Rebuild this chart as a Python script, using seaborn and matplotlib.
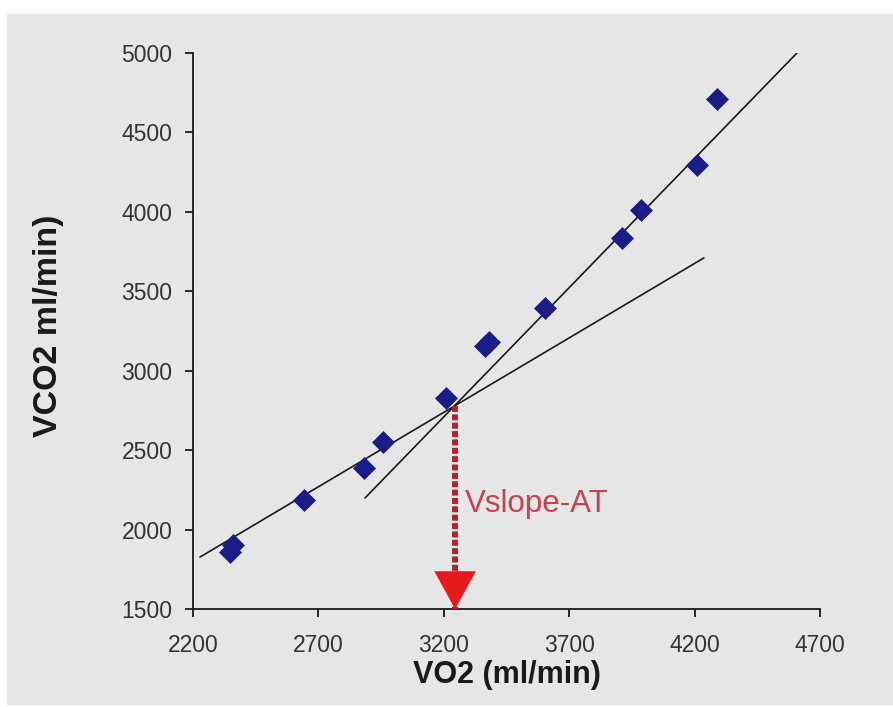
import matplotlib
matplotlib.use("Agg")
import matplotlib.pyplot as plt
from matplotlib.patches import Rectangle
import seaborn as sns
import pandas as pd

# ---- data ----
VO2 = [2347, 2359, 2643, 2882, 2958, 3209, 3364, 3380, 3603, 3910, 3986, 4209, 4289]
VCO2 = [1859, 1903, 2186, 2388, 2552, 2829, 3155, 3180, 3395, 3836, 4012, 4296, 4711]

LINE1_VO2 = [2228, 4237]   # lower-slope regression line
LINE1_VCO2 = [1827, 3710]
LINE2_VO2 = [2886, 4608]   # upper-slope regression line
LINE2_VCO2 = [2199, 5000]

AT_VO2 = 3245     # anaerobic threshold (intersection)
AT_VCO2 = 2780
AT_LABEL = "Vslope-AT"
AT_LABEL_POS = (3285, 2108)

X_TICKS = [2200, 2700, 3200, 3700, 4200, 4700]
Y_TICKS = [1500, 2000, 2500, 3000, 3500, 4000, 4500, 5000]
X_LABEL = "VO2 (ml/min)"
Y_LABEL = "VCO2 ml/min)"

df = pd.DataFrame({"VO2": VO2, "VCO2": VCO2})

sns.set_theme(style="ticks")
plt.rcParams["font.family"] = ["Liberation Sans", "DejaVu Sans"]

GRAY = "#e6e6e6"
fig = plt.figure(figsize=(8.93, 7.07), dpi=100)
fig.patch.set_facecolor("white")
fig.patches.append(Rectangle((7 / 893, 2 / 707), 1.0, (705 - 14) / 707,
                             transform=fig.transFigure, facecolor=GRAY,
                             edgecolor="none", zorder=-10))

ax = fig.add_axes([193 / 893, 1 - 609 / 707, (820 - 193) / 893, (609 - 53) / 707])
ax.patch.set_alpha(0)

sns.lineplot(x=LINE1_VO2, y=LINE1_VCO2, ax=ax, color="#1a1a1a", lw=1.2, zorder=2)
sns.lineplot(x=LINE2_VO2, y=LINE2_VCO2, ax=ax, color="#1a1a1a", lw=1.2, zorder=2)

sns.scatterplot(data=df, x="VO2", y="VCO2", ax=ax, marker="D", s=125,
                color="#1c1c88", edgecolor="#1c1c88", linewidth=0.5, zorder=3)

# dotted drop line and arrow head
ax.plot([AT_VO2, AT_VO2], [AT_VCO2, Y_TICKS[0]], color="#b3212e", lw=4.3,
        linestyle=(0, (1.0, 0.4)), solid_capstyle="butt", dash_capstyle="butt", zorder=4)
ax.annotate("", xy=(AT_VO2, Y_TICKS[0]), xytext=(0, 28), textcoords="offset points",
            arrowprops=dict(arrowstyle="-|>,head_length=1.36,head_width=0.75",
                            mutation_scale=20, color="#e8191c", lw=0,
                            shrinkA=0, shrinkB=0), zorder=5)
ax.text(AT_LABEL_POS[0], AT_LABEL_POS[1], AT_LABEL, color="#c8414f",
        fontsize=22.5, va="baseline", ha="left", zorder=5)

ax.set_xlim(X_TICKS[0], X_TICKS[-1])
ax.set_ylim(Y_TICKS[0], Y_TICKS[-1])
ax.set_xticks(X_TICKS)
ax.set_yticks(Y_TICKS)

for side in ["top", "right"]:
    ax.spines[side].set_visible(False)
for side in ["left", "bottom"]:
    ax.spines[side].set_color("#1a1a1a")
    ax.spines[side].set_linewidth(1.3)

ax.tick_params(axis="both", direction="out", length=5.8, width=1.3,
               color="#1a1a1a", labelcolor="#333333", labelsize=16.5)
ax.tick_params(axis="x", pad=12.5)
ax.tick_params(axis="y", pad=9.0)

ax.set_xlabel(X_LABEL, fontsize=22, fontweight="bold", color="#1a1a1a")
ax.set_ylabel(Y_LABEL, fontsize=24.5, fontweight="bold", color="#1a1a1a")
ax.xaxis.set_label_coords(0.5, -0.092)
ax.yaxis.set_label_coords(-0.205, 0.51)

fig.savefig("out.png", dpi=100, facecolor=fig.get_facecolor())
